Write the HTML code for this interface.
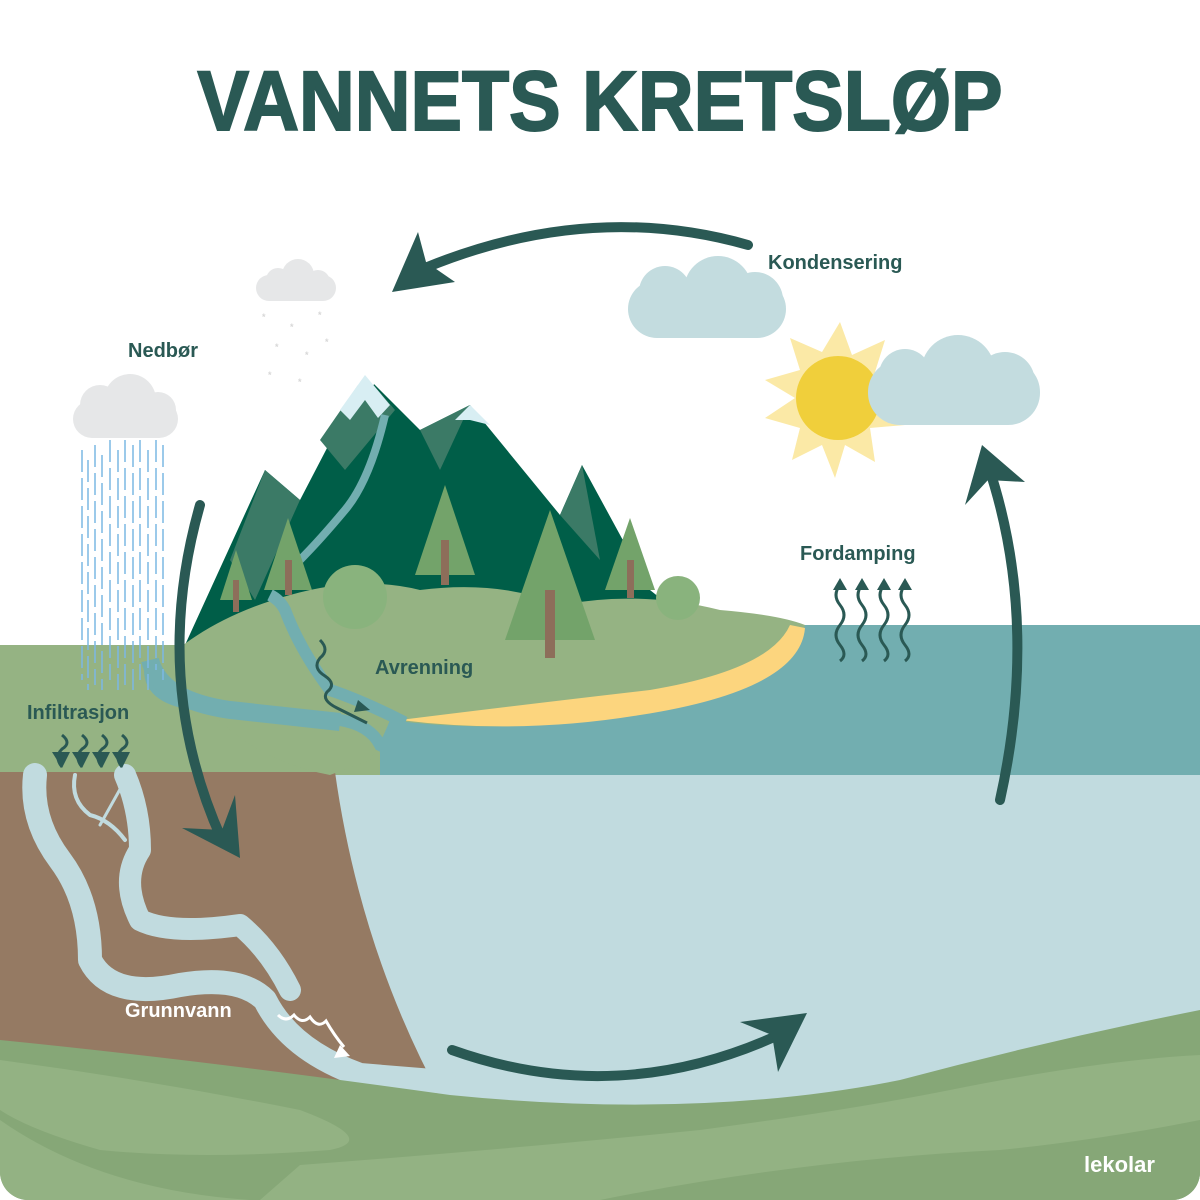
<!DOCTYPE html>
<html><head><meta charset="utf-8"><style>
html,body{margin:0;padding:0;background:#fff}
svg{display:block}
text{font-family:"Liberation Sans","DejaVu Sans",sans-serif;font-weight:bold}
</style></head><body>
<svg width="1200" height="1200" viewBox="0 0 1200 1200" xmlns="http://www.w3.org/2000/svg">
<defs><clipPath id="c"><rect x="0" y="0" width="1200" height="1200" rx="28"/></clipPath></defs>
<g clip-path="url(#c)">
<rect width="1200" height="1200" fill="#fff"/>
<rect x="330" y="770" width="870" height="340" fill="#c1dbdf"/>
<rect x="340" y="625" width="860" height="150" fill="#72aeb0"/>
<rect x="0" y="645" width="380" height="130" fill="#95b383"/>
<path d="M0,772 L335,772 Q360,950 442,1100 L0,1100 Z" fill="#957a63"/>
<g fill="none" stroke="#c1dbdf" stroke-linecap="round" stroke-linejoin="round">
<path d="M35,775 Q30,820 60,860 Q90,900 90,960 Q110,1000 180,985 Q240,975 265,1000 Q290,1050 360,1075 L445,1082" stroke-width="24"/>
<path d="M125,775 Q140,810 140,850 Q120,880 140,920 Q170,935 240,925 Q270,950 290,990" stroke-width="22"/>
<path d="M75,775 Q70,800 90,815 Q110,820 125,840" stroke-width="4"/>
<path d="M128,775 L100,825" stroke-width="3"/>
<path d="M45,775 Q40,800 30,810" stroke-width="3"/>
</g>
<path d="M0,1040 Q200,1060 450,1095 Q700,1120 900,1080 Q1050,1040 1200,1010 L1200,1200 L0,1200 Z" fill="#86a777"/>
<path d="M0,1060 Q150,1080 300,1110 Q380,1140 330,1150 Q200,1160 100,1150 Q30,1130 0,1110 Z" fill="#93b283"/>
<path d="M0,1120 Q100,1190 250,1200 L0,1200 Z" fill="#93b283"/>
<path d="M300,1165 Q500,1150 700,1130 Q850,1110 950,1090 Q1100,1060 1200,1055 L1200,1200 L260,1200 Z" fill="#93b283"/>
<path d="M600,1200 Q800,1160 1000,1150 Q1100,1140 1200,1120 L1200,1200 Z" fill="#86a777"/>
<polygon points="185,645 265,470 300,500 365,375 420,430 470,405 560,515 582,465 650,590 700,630 185,660" fill="#005e48"/>
<polygon points="265,470 300,500 255,600 230,560" fill="#3b7a66"/>
<polygon points="365,375 395,410 345,470 320,440" fill="#3b7a66"/>
<polygon points="420,430 470,405 440,470" fill="#3b7a66"/>
<polygon points="560,515 582,465 600,560" fill="#3b7a66"/>
<polygon points="350,375 382,375 365,395" fill="#fff"/>
<polygon points="340,410 365,375 390,405 378,418 365,400 350,420" fill="#d8eef3"/>
<polygon points="455,420 470,405 490,425 470,420" fill="#d8eef3"/>
<path d="M385,415 Q370,480 345,510 Q320,540 300,560" fill="none" stroke="#72aeb0" stroke-width="8"/>
<path d="M150,675 Q200,620 290,595 Q360,575 420,590 Q500,580 560,605 Q640,590 720,610 Q780,615 805,625 Q790,690 640,715 Q500,735 390,720 Q380,745 370,760 L330,775 Q250,760 200,700 Z" fill="#95b383"/>
<path d="M790,625 L805,628 Q800,690 640,715 Q520,735 400,720 Q520,705 650,690 Q770,670 790,625 Z" fill="#fcd57e"/>
<path d="M150,670 Q150,700 200,705 Q280,720 340,720 Q370,725 380,745 L390,750 L400,720 Q360,700 330,690 Q300,650 285,610 Q280,600 270,595" fill="none" stroke="#72aeb0" stroke-width="12"/>
<path d="M150,660 Q160,700 230,710 L340,722" fill="none" stroke="#72aeb0" stroke-width="18"/>
<g>
<polygon points="236,550 252,600 220,600" fill="#73a36a"/><rect x="233" y="580" width="6" height="32" fill="#8d6e5a"/>
<polygon points="288,518 312,590 264,590" fill="#73a36a"/><rect x="285" y="560" width="7" height="35" fill="#8d6e5a"/>
<polygon points="445,485 475,575 415,575" fill="#73a36a"/><rect x="441" y="540" width="8" height="45" fill="#8d6e5a"/>
<polygon points="550,510 595,640 505,640" fill="#73a36a"/><rect x="545" y="590" width="10" height="68" fill="#8d6e5a"/>
<polygon points="630,518 655,590 605,590" fill="#73a36a"/><rect x="627" y="560" width="7" height="38" fill="#8d6e5a"/>
<circle cx="355" cy="597" r="32" fill="#89b37d"/><circle cx="678" cy="598" r="22" fill="#89b37d"/>
</g>
<g fill="#e6e7e8">
<rect x="256" y="275" width="80" height="26" rx="13"/><circle cx="278" cy="280" r="12"/><circle cx="298" cy="275" r="16"/><circle cx="318" cy="282" r="12"/>
<rect x="73" y="400" width="105" height="38" rx="19"/><circle cx="100" cy="405" r="20"/><circle cx="130" cy="400" r="26"/><circle cx="158" cy="410" r="18"/>
</g>
<g fill="#c3dcdf">
<rect x="628" y="280" width="158" height="58" rx="29"/><circle cx="665" cy="292" r="26"/><circle cx="718" cy="290" r="34"/><circle cx="755" cy="300" r="28"/>
</g>
<polygon points="840,322 852,355 885,340 875,372 910,385 878,400 905,425 870,428 875,462 845,445 835,478 822,445 792,460 800,428 765,418 795,398 765,380 800,370 790,338 822,352" fill="#fbe9a6"/>
<circle cx="838" cy="398" r="42" fill="#f0cf3b"/>
<g fill="#c3dcdf">
<rect x="868" y="360" width="172" height="65" rx="32"/><circle cx="905" cy="375" r="26"/><circle cx="958" cy="372" r="37"/><circle cx="1005" cy="382" r="30"/>
</g>
<g stroke="#7cb8e4" stroke-width="1.5" stroke-dasharray="22 6">
<line x1="82" y1="450" x2="82" y2="680"/><line x1="88" y1="460" x2="88" y2="690"/><line x1="95" y1="445" x2="95" y2="685"/><line x1="102" y1="455" x2="102" y2="690"/><line x1="110" y1="440" x2="110" y2="680"/><line x1="118" y1="450" x2="118" y2="690"/><line x1="125" y1="440" x2="125" y2="685"/><line x1="133" y1="445" x2="133" y2="690"/><line x1="140" y1="440" x2="140" y2="680"/><line x1="148" y1="450" x2="148" y2="690"/><line x1="156" y1="440" x2="156" y2="670"/><line x1="163" y1="445" x2="163" y2="680"/>
</g>
<g fill="#d8d8d8" font-size="9"><text x="262" y="320">*</text><text x="290" y="330">*</text><text x="318" y="318">*</text><text x="275" y="350">*</text><text x="305" y="358">*</text><text x="268" y="378">*</text><text x="298" y="385">*</text><text x="325" y="345">*</text></g>
<g fill="none" stroke="#2a5954" stroke-width="10" stroke-linecap="round">
<path d="M748,245 Q590,200 425,268"/>
<path d="M200,505 Q150,680 222,840"/>
<path d="M452,1050 Q620,1110 785,1032"/>
<path d="M1000,800 Q1040,620 988,465"/>
</g>
<g fill="#2a5954">
<path d="M392,292 L418,232 L426,262 L455,282 Z"/>
<path d="M240,858 L235,795 L222,830 L182,828 Z"/>
<path d="M807,1013 L740,1022 L772,1035 L778,1072 Z"/>
<path d="M982,445 L965,505 L988,480 L1025,482 Z"/>
</g>
<g fill="none" stroke="#2a5954" stroke-width="3">
<path d="M320,640 q10,10 0,18 q-8,10 5,18 q12,8 2,16 q-6,8 10,16 l30,15"/>
<path d="M62,735 q10,8 0,14 q-8,8 0,18"/><path d="M82,735 q10,8 0,14 q-8,8 0,18"/><path d="M102,735 q10,8 0,14 q-8,8 0,18"/><path d="M122,735 q10,8 0,14 q-8,8 0,18"/>
<path d="M840,585 q-8,10 0,20 q8,10 0,20 q-8,10 0,20 q8,10 0,16"/><path d="M862,585 q-8,10 0,20 q8,10 0,20 q-8,10 0,20 q8,10 0,16"/><path d="M884,585 q-8,10 0,20 q8,10 0,20 q-8,10 0,20 q8,10 0,16"/><path d="M905,585 q-8,10 0,20 q8,10 0,20 q-8,10 0,20 q8,10 0,16"/>
</g>
<g fill="#2a5954">
<polygon points="358,700 370,710 354,712"/>
<polygon points="52,752 70,752 62,768"/><polygon points="72,752 90,752 82,768"/><polygon points="92,752 110,752 102,768"/><polygon points="112,752 130,752 122,768"/>
<polygon points="833,590 840,578 847,590"/><polygon points="855,590 862,578 869,590"/><polygon points="877,590 884,578 891,590"/><polygon points="898,590 905,578 912,590"/>
</g>
<path d="M278,1015 q8,8 16,0 q8,10 16,2 q8,12 16,4 q8,14 18,26" fill="none" stroke="#fff" stroke-width="3"/>
<polygon points="334,1058 350,1056 340,1045" fill="#fff"/>
<text x="600" y="130" text-anchor="middle" font-size="84" fill="#2a5954" textLength="805" lengthAdjust="spacingAndGlyphs" stroke="#2a5954" stroke-width="2">VANNETS KRETSLØP</text>
<g fill="#2a5954" font-size="20">
<text x="128" y="357">Nedbør</text>
<text x="768" y="269">Kondensering</text>
<text x="800" y="560">Fordamping</text>
<text x="375" y="674">Avrenning</text>
<text x="27" y="719">Infiltrasjon</text>
</g>
<text x="125" y="1017" font-size="20" fill="#fff">Grunnvann</text>
<text x="1084" y="1172" font-size="22" fill="#fff" font-weight="normal">lekolar</text>
</g>
</svg>
</body></html>
